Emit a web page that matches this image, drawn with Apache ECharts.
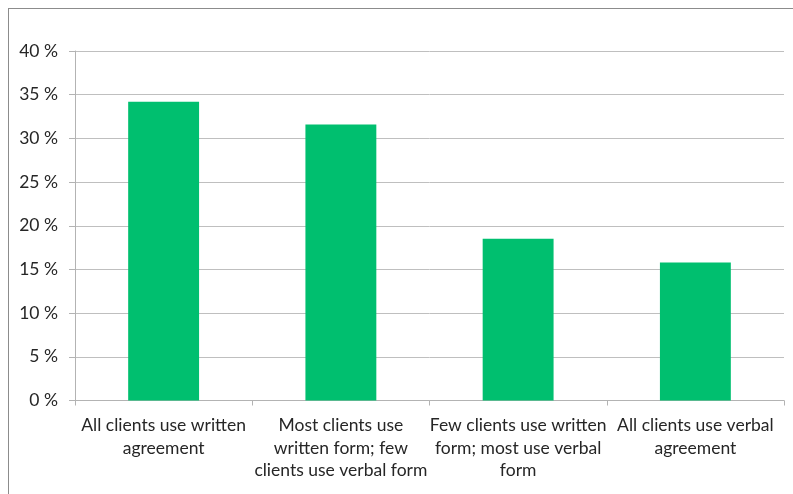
<!DOCTYPE html>
<html><head><meta charset="utf-8">
<script src="https://cdn.jsdelivr.net/npm/echarts@6/dist/echarts.min.js"></script>
<style>
html,body{margin:0;padding:0;background:#fff;overflow:hidden;}
#frame{position:absolute;left:8px;top:8px;width:820px;height:520px;border:1px solid #8c8c8c;box-sizing:border-box;}
#chart{position:absolute;left:0;top:0;width:793px;height:494px;}
</style></head>
<body>
<div id="frame"></div>
<div id="chart"></div>
<script>
const categories = [
  "All clients use written\nagreement",
  "Most clients use\nwritten form; few\nclients use verbal form",
  "Few clients use written\nform; most use verbal\nform",
  "All clients use verbal\nagreement"
];
const values = [34.2, 31.6, 18.5, 15.8];
const yTicks = [0, 5, 10, 15, 20, 25, 30, 35, 40];

const chart = echarts.init(document.getElementById('chart'));
chart.setOption({
  animation: false,
  grid: {left: 75, right: 9, top: 51, bottom: 93.5, containLabel: false},
  xAxis: {
    type: 'category',
    data: categories,
    axisLine: {lineStyle: {color: '#b3b3b3', width: 1}},
    axisTick: {show: true, length: 5, lineStyle: {color: '#b3b3b3'}},
    axisLabel: {color: '#262626', fontFamily: 'Lato, "Open Sans", sans-serif', fontSize: 17.5, lineHeight: 22.5, margin: 14, interval: 0}
  },
  yAxis: {
    type: 'value',
    min: yTicks[0], max: yTicks[yTicks.length - 1], interval: 5,
    axisLine: {show: true, lineStyle: {color: '#b3b3b3'}},
    axisTick: {show: true, length: 6, lineStyle: {color: '#b3b3b3'}},
    splitLine: {lineStyle: {color: '#bfbfbf', width: 1}},
    axisLabel: {color: '#262626', fontFamily: 'Lato, "Open Sans", sans-serif', fontSize: 17.5, margin: 17,
      formatter: v => v + ' %'}
  },
  series: [{
    type: 'bar',
    data: values,
    barWidth: '40%',
    itemStyle: {color: '#00BF6F'}
  }]
});
</script>
</body></html>
